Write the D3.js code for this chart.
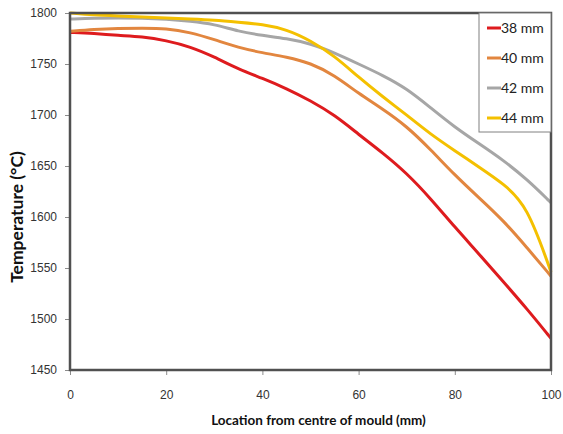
<!DOCTYPE html>
<html>
<head>
<meta charset="utf-8">
<script src="https://cdn.jsdelivr.net/npm/d3@7"></script>
<style>
  body { margin: 0; background: #fff; }
  svg { font-family: Lato, "Liberation Sans", Arial, sans-serif; }
</style>
</head>
<body>
<svg id="chart"></svg>
<script>
// location from centre of mould (mm)
const locations = [0, 5, 10, 15, 20, 25, 30, 35, 40, 45, 50, 55, 60, 65, 70, 75, 80, 85, 90, 95, 100];

// temperature (°C) per mould size
const temp38 = [1781, 1780, 1778, 1777, 1773, 1767, 1757, 1745, 1736, 1726, 1714, 1700, 1681, 1663, 1643, 1618, 1590, 1564, 1537, 1510, 1481];
const temp40 = [1782, 1784, 1785, 1785, 1785, 1781, 1774, 1766, 1761, 1757, 1751, 1739, 1721, 1706, 1689, 1666, 1641, 1619, 1597, 1570, 1542];
const temp42 = [1794, 1795, 1795, 1795, 1794, 1792, 1789, 1782, 1778, 1775, 1770, 1761, 1750, 1739, 1726, 1707, 1688, 1672, 1656, 1637, 1614];
const temp44 = [1800, 1798, 1797, 1796, 1795, 1794, 1793, 1791, 1789, 1784, 1773, 1758, 1737, 1718, 1700, 1681, 1665, 1649, 1633, 1612, 1546];

const seriesNames = ['38 mm', '40 mm', '42 mm', '44 mm'];
const seriesColors = ['#DE1B1E', '#E2863F', '#A6A6A6', '#F4C000'];
const xTicks = [0, 20, 40, 60, 80, 100];
const yTicks = [1450, 1500, 1550, 1600, 1650, 1700, 1750, 1800];

const series = [temp38, temp40, temp42, temp44].map((vals, i) => ({
  name: seriesNames[i],
  color: seriesColors[i],
  values: vals.map((v, j) => ({x: locations[j], y: v}))
}));

const width = 563, height = 434;
const margin = {top: 13, right: 12, bottom: 64, left: 70};
const innerW = width - margin.left - margin.right;
const innerH = height - margin.top - margin.bottom;

const svg = d3.select('#chart')
    .attr('width', width)
    .attr('height', height);

const g = svg.append('g')
    .attr('transform', `translate(${margin.left},${margin.top})`);

const x = d3.scaleLinear().domain([0, 100]).range([0, innerW]);
const y = d3.scaleLinear().domain([1450, 1800]).range([innerH, 0]);

// axes
const yAxis = d3.axisLeft(y).tickValues(yTicks).tickSize(5).tickPadding(8).tickFormat(d3.format('d'));
const xAxis = d3.axisBottom(x).tickValues(xTicks).tickSize(5).tickPadding(15).tickFormat(d3.format('d'));

const yAxisG = g.append('g').call(yAxis);
const xAxisG = g.append('g').attr('transform', `translate(0,${innerH})`).call(xAxis);

[yAxisG, xAxisG].forEach(a => {
  a.select('.domain').remove();
  a.selectAll('.tick line').attr('stroke', '#8c8c8c');
  a.selectAll('.tick text').attr('fill', '#333').style('font-size', '12px');
});

// lines (smoothed like the spreadsheet original)
const line = d3.line()
    .x(d => x(d.x))
    .y(d => y(d.y))
    .curve(d3.curveBasis);

g.selectAll('.series')
  .data(series)
  .join('path')
    .attr('class', 'series')
    .attr('fill', 'none')
    .attr('stroke', d => d.color)
    .attr('stroke-width', 3)
    .attr('d', d => line(d.values));

// plot frame
g.append('rect')
    .attr('width', innerW)
    .attr('height', innerH)
    .attr('fill', 'none')
    .attr('stroke', '#505050')
    .attr('stroke-width', 2.5);

// legend
const legend = g.append('g').attr('transform', `translate(${innerW - 72},0)`);
legend.append('rect')
    .attr('width', 72)
    .attr('height', 119)
    .attr('fill', '#fff')
    .attr('stroke', '#808080')
    .attr('stroke-width', 1);

const item = legend.selectAll('.item')
  .data(series)
  .join('g')
    .attr('class', 'item')
    .attr('transform', (d, i) => `translate(8,${15 + i * 30})`);

item.append('line')
    .attr('x1', 0).attr('x2', 14)
    .attr('stroke', d => d.color)
    .attr('stroke-width', 3);

item.append('text')
    .attr('x', 14)
    .attr('dy', '0.35em')
    .attr('fill', '#222')
    .style('font-size', '14px')
    .text(d => d.name);

// axis titles
svg.append('text')
    .attr('x', margin.left + innerW / 2 + 8)
    .attr('y', 425)
    .attr('text-anchor', 'middle')
    .attr('fill', '#111')
    .style('font-size', '13.5px')
    .style('font-weight', 'bold')
    .text('Location from centre of mould (mm)');

svg.append('text')
    .attr('transform', `translate(23,217) rotate(-90)`)
    .attr('text-anchor', 'middle')
    .attr('fill', '#111')
    .style('font-size', '17.5px')
    .style('font-weight', 'bold')
    .text('Temperature (°C)');
</script>
</body>
</html>
